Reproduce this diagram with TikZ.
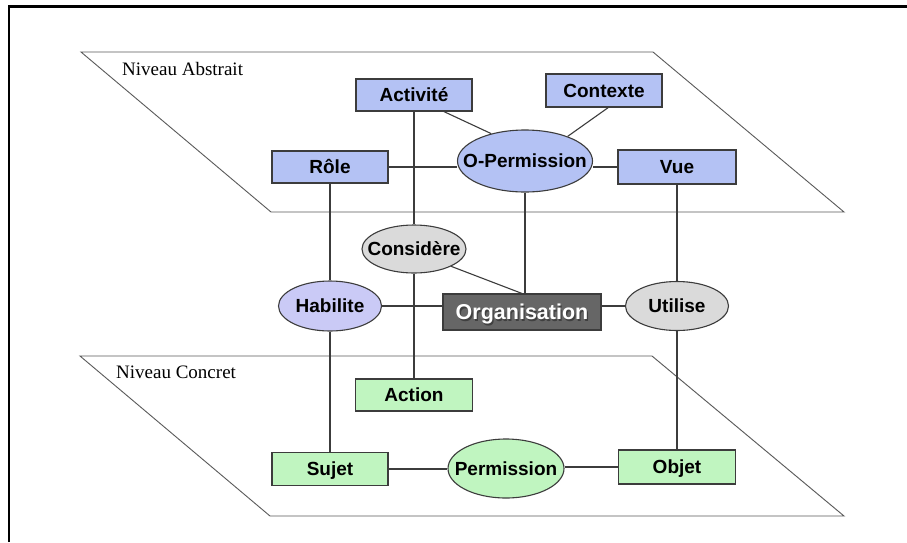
\documentclass[tikz,border=0pt]{standalone}
\usepackage{fontspec}
\setmainfont{Liberation Serif}
\setsansfont{Liberation Sans}
\usetikzlibrary{shapes.geometric}
\definecolor{blueF}{RGB}{180,194,244}
\definecolor{lavF}{RGB}{202,202,246}
\definecolor{grayF}{RGB}{218,218,218}
\definecolor{greenF}{RGB}{192,245,192}
\definecolor{orgF}{RGB}{102,102,102}
\definecolor{edgeC}{RGB}{60,60,60}
\definecolor{planeC}{RGB}{90,90,90}
\newcommand{\zbox}[1]{\makebox[0pt][c]{#1}}
\pgfdeclarelayer{planelayer}
\pgfdeclarelayer{connlayer}
\pgfsetlayers{planelayer,connlayer,main}
\begin{document}
\begin{tikzpicture}[x=1pt,y=-1pt,
  lbl/.style={font=\rmfamily\fontsize{19}{21}\selectfont, anchor=west, inner sep=0pt},
  plane/.style={draw=planeC, line width=0.9pt, fill=white},
  conn/.style={draw=edgeC, line width=1.1pt},
  base/.style={inner sep=0pt, draw=edgeC, line width=1.1pt, text height=13.5pt, text depth=0pt,
    font=\sffamily\bfseries\fontsize{19}{22}\selectfont},
  rbox/.style={base, rectangle},
  ebox/.style={base, ellipse},
]
\useasboundingbox (0,0) rectangle (907,542);
\begin{pgfonlayer}{planelayer}
\fill[white] (0,0) rectangle (907,542);
% outer frame (top and left edges)
\draw[line width=2.4pt] (9,542) -- (9,6.3) -- (907,6.3);
% planes
\draw[plane] (81,52) -- (653,52) -- (844,212) -- (271,212) -- cycle;
\draw[plane] (80,356) -- (652,356) -- (844,516) -- (270,516) -- cycle;
\node[lbl] (labA) at (122,69) {Niveau Abstrait};
\node[lbl] (labC) at (116,372) {Niveau Concret};
\end{pgfonlayer}

% nodes
\node[rbox, fill=blueF, minimum width=116pt, minimum height=32pt] (act) at (414,95) {Activité};
\node[rbox, fill=blueF, minimum width=116pt, minimum height=33pt] (ctx) at (604,90.5) {Contexte};
\node[rbox, fill=blueF, minimum width=116pt, minimum height=32pt] (role) at (330,167) {Rôle};
\node[ebox, fill=blueF, minimum width=135pt, minimum height=62pt] (op) at (525,161) {\zbox{O-Permission}};
\node[rbox, fill=blueF, minimum width=118pt, minimum height=34pt] (vue) at (677,167) {Vue};
\node[ebox, fill=grayF, minimum width=104pt, minimum height=48pt] (cons) at (414,249) {\zbox{Considère}};
\node[ebox, fill=lavF, minimum width=103pt, minimum height=50pt] (hab) at (330,306) {\zbox{Habilite}};
\node[rbox, fill=orgF, minimum width=158pt, minimum height=36pt, text height=15.5pt,
  font=\sffamily\bfseries\fontsize{21.5}{24}\selectfont] (org) at (522,312)
  {\rlap{\hspace*{1.3pt}\raisebox{-1.3pt}{\color{black!75}Organisation}}\textcolor{white}{Organisation}};
\node[ebox, fill=grayF, minimum width=103pt, minimum height=49pt] (util) at (677,306) {\zbox{Utilise}};
\node[rbox, fill=greenF, minimum width=117pt, minimum height=32pt] (action) at (414,395) {Action};
\node[rbox, fill=greenF, minimum width=116pt, minimum height=33pt] (sujet) at (330,469) {Sujet};
\node[ebox, fill=greenF, minimum width=116pt, minimum height=59pt] (perm) at (506,468.5) {\zbox{Permission}};
\node[rbox, fill=greenF, minimum width=117pt, minimum height=34pt] (objet) at (677,467) {Objet};

% connectors
\begin{pgfonlayer}{connlayer}
\draw[conn] (act) -- (cons);
\draw[conn] (cons) -- (action);
\draw[conn] (act.-29) -- (op.141);
\draw[conn] (ctx.-76) -- (op.30);
\draw[conn] (role.east) -- (role.east -| op.west);
\draw[conn] (op.east |- vue.west) -- (vue.west);
\draw[conn] (op.south) -- (op.south |- org.north);
\draw[conn] (vue) -- (util);
\draw[conn] (cons.-25) -- (org.north);
\draw[conn] (role) -- (hab);
\draw[conn] (hab) -- (sujet);
\draw[conn] (hab.east) -- (hab.east -| org.west);
\draw[conn] (org.east |- util.west) -- (util.west);
\draw[conn] (util) -- (objet);
\draw[conn] (sujet.east) -- (sujet.east -| perm.west);
\draw[conn] (perm.east |- objet.west) -- (objet.west);
\end{pgfonlayer}
\end{tikzpicture}
\end{document}
